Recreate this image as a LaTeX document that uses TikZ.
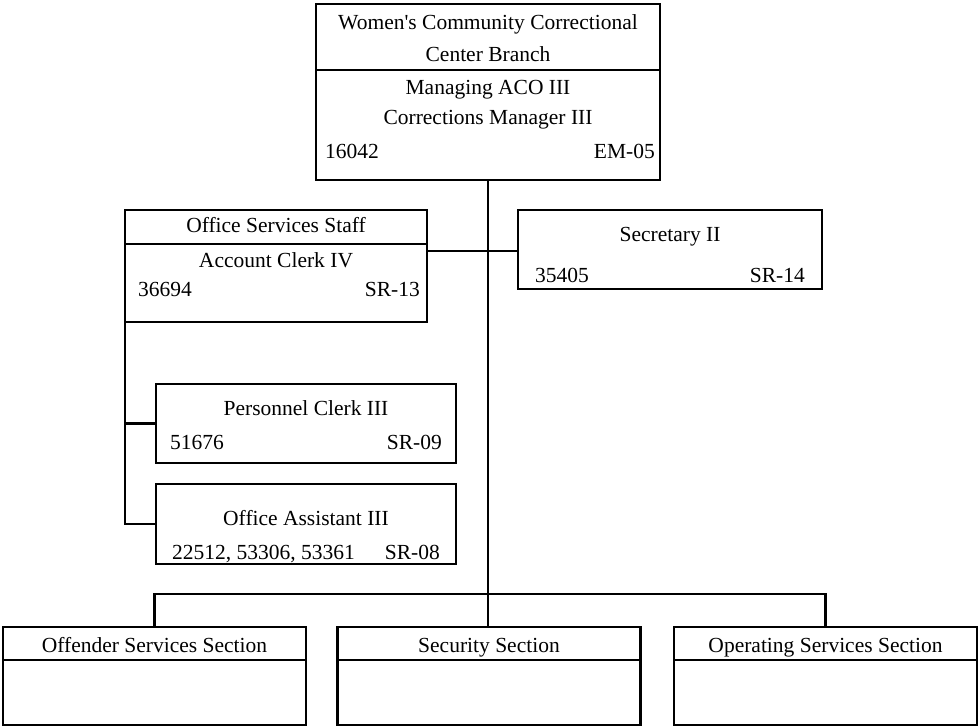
\documentclass[tikz,border=0pt]{standalone}
\usepackage{fontspec}
\setmainfont{Liberation Serif}
\usepackage{textcomp}
\begin{document}
\begin{tikzpicture}[x=1pt,y=-1pt,
  box/.style={draw,line width=2.3pt,inner sep=0pt,outer sep=0pt,line join=miter},
  conn/.style={line width=2.3pt,line join=miter},
  txt/.style={font=\fontsize{21.5}{24}\selectfont,inner sep=0pt,anchor=base},
  txtl/.style={txt,anchor=base west},
  txtr/.style={txt,anchor=base east}]
\useasboundingbox (0,0) rectangle (979,727);

% boxes
\node[box,minimum width=344pt,minimum height=176pt] (top) at (488,92) {};
\node[box,minimum width=302pt,minimum height=112pt] (ofs) at (276,266) {};
\node[box,minimum width=304pt,minimum height=79pt] (sec) at (670,249.5) {};
\node[box,minimum width=300pt,minimum height=79pt] (pc) at (306,423.5) {};
\node[box,minimum width=300pt,minimum height=80pt] (oa) at (306,524) {};
\node[box,minimum width=303pt,minimum height=98pt] (off) at (154.5,676) {};
\node[box,minimum width=303pt,minimum height=98pt] (secu) at (489,676) {};
\node[box,minimum width=303pt,minimum height=98pt] (opr) at (825.5,676) {};

% dividers
\coordinate (d1) at (0,70);
\coordinate (d2) at (0,244);
\coordinate (d3) at (0,660);
\draw[conn] (top.west |- d1) -- (top.east |- d1);
\draw[conn] (ofs.west |- d2) -- (ofs.east |- d2);
\draw[conn] (off.west |- d3) -- (off.east |- d3);
\draw[conn] (secu.west |- d3) -- (secu.east |- d3);
\draw[conn] (opr.west |- d3) -- (opr.east |- d3);

% texts
\node[txt] (t1) at (488,30) {Women\textquotesingle s Community Correctional};
\node[txt] (t2) at (488,62) {Center Branch};
\node[txt] (t3) at (488,95) {Managing ACO III};
\node[txt] (t4) at (488,125) {Corrections Manager III};
\node[txtl] (t5) at (325,159) {16042};
\node[txtr] (t6) at (655,159) {EM-05};

\node[txt] (o1) at (276,233) {Office Services Staff};
\node[txt] (o2) at (276,268) {Account Clerk IV};
\node[txtl] (o3) at (138,296) {36694};
\node[txtr] (o4) at (420,296) {SR-13};

\node[txt] (s1) at (670,242) {Secretary II};
\node[txtl] (s2) at (535,282) {35405};
\node[txtr] (s3) at (805,282) {SR-14};

\node[txt] (p1) at (306,415) {Personnel Clerk III};
\node[txtl] (p2) at (170,449) {51676};
\node[txtr] (p3) at (442,449) {SR-09};

\node[txt] (a1) at (306,525) {Office Assistant III};
\node[txtl] (a2) at (172,559) {22512, 53306, 53361};
\node[txtr] (a3) at (440,559) {SR-08};

\node[txt] (b1) at (154.5,652) {Offender Services Section};
\node[txt] (b2) at (489,652) {Security Section};
\node[txt] (b3) at (825.5,652) {Operating Services Section};

% connectors
\coordinate (h1) at (0,251);
\coordinate (bus) at (0,594);
\draw[conn] (ofs.east |- h1) -- (sec.west |- h1);
\draw[conn] (top.south) -- (top.south |- secu.north);
\draw[conn] (off.north) -- (off.north |- bus) -- (opr.north |- bus) -- (opr.north);
\draw[conn] (ofs.south west) |- (oa.west);
\draw[conn] (ofs.south west |- pc.west) -- (pc.west);
\end{tikzpicture}
\end{document}
